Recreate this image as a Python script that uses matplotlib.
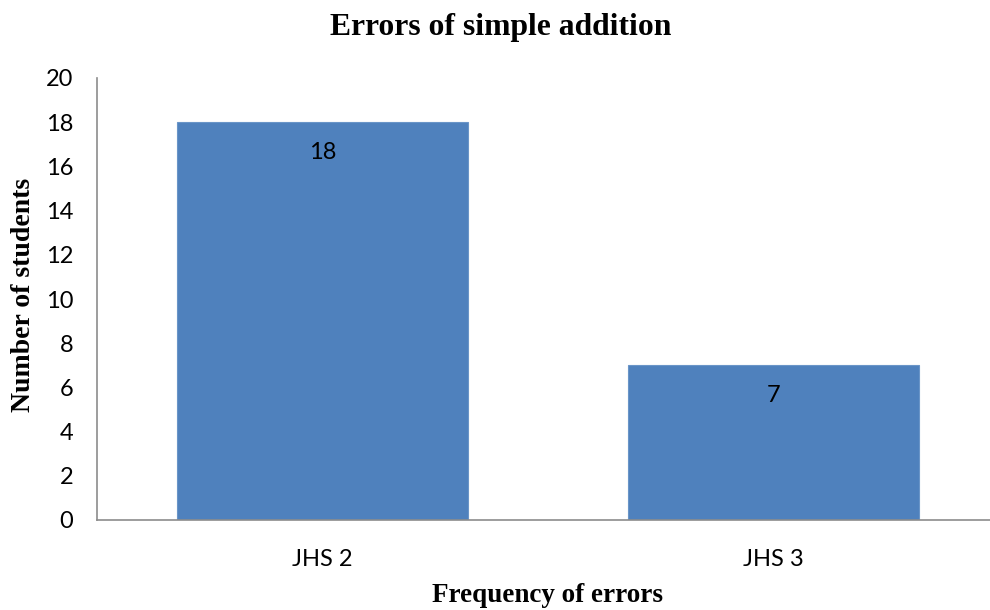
import matplotlib
matplotlib.use("Agg")
import matplotlib.pyplot as plt

categories = ["JHS 2", "JHS 3"]
values = [18, 7]
yticks = [0, 2, 4, 6, 8, 10, 12, 14, 16, 18, 20]

title = "Errors of simple addition"
xlabel = "Frequency of errors"
ylabel = "Number of students"

W, H = 990, 610
fig = plt.figure(figsize=(W / 100, H / 100), dpi=100)
ax = fig.add_axes([97 / W, 90 / H, 902 / W, 442 / H])

x = list(range(len(categories)))
ax.bar(x, values, width=0.645, color="#4F81BD", edgecolor="#6A95C8", linewidth=0.8, zorder=2)

ax.set_xlim(-0.5, len(categories) - 0.5)
ax.set_ylim(0, 20)
ax.set_yticks(yticks)
ax.set_xticks(x)
ax.set_xticklabels(categories)

for lbl in ax.get_xticklabels() + ax.get_yticklabels():
    lbl.set_fontfamily("Lato")
    lbl.set_fontsize(17)
    lbl.set_color("black")

ax.tick_params(axis="both", length=0)
ax.tick_params(axis="y", pad=17)
ax.tick_params(axis="x", pad=21)

for side in ["top", "right"]:
    ax.spines[side].set_visible(False)
for side in ["left", "bottom"]:
    ax.spines[side].set_color("#8C8C8C")
    ax.spines[side].set_linewidth(1.2)

for xi, v in zip(x, values):
    ax.annotate(str(v), xy=(xi, v), xytext=(0, -22), textcoords="offset points",
                ha="center", va="center", fontfamily="Lato", fontsize=17, color="black")

ax.set_ylabel(ylabel, fontfamily="Liberation Serif", fontweight="bold", fontsize=20, va="center")
ax.yaxis.set_label_coords(-0.082, 0.509)
ax.set_xlabel(xlabel, fontfamily="Liberation Serif", fontweight="bold", fontsize=19.5, va="center")
ax.xaxis.set_label_coords(0.5, -0.170)

fig.text(0.506, 1 - 28 / H, title, ha="center", va="center",
         fontfamily="Liberation Serif", fontweight="bold", fontsize=22.8)

fig.savefig("out.png", dpi=100)
